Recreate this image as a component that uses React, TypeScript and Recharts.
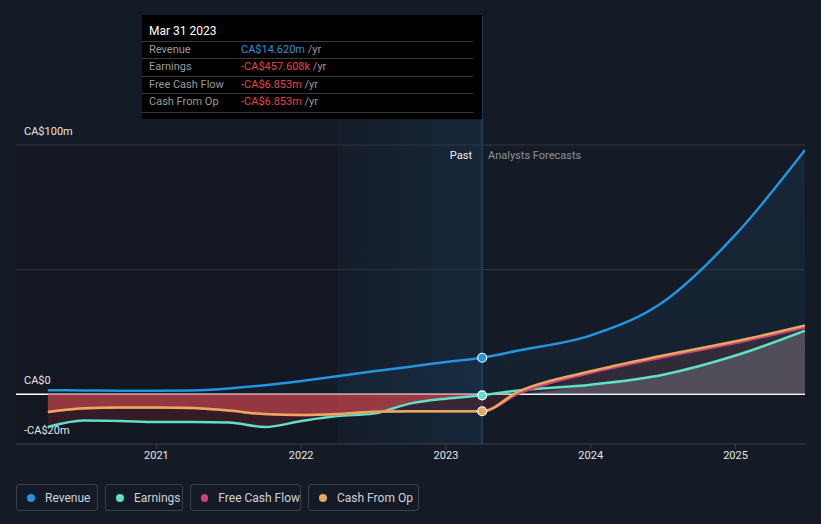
import React from "react";
import {
  ComposedChart,
  Area,
  Line,
  XAxis,
  YAxis,
  ReferenceLine,
  ReferenceArea,
} from "recharts";

// time axis (fractional years), last reported point is Mar 31 2023
const periods = [
  2020.25, 2020.5, 2020.75, 2021.0, 2021.25, 2021.5, 2021.75, 2022.0, 2022.25,
  2022.5, 2022.75, 2023.0, 2023.25, 2023.5, 2024.0, 2024.5, 2025.0, 2025.48,
];
const PAST_END = 2023.25;
const PAST_START = 2022.25;
const X_DOMAIN = [2020.03, 2025.48];
const Y_DOMAIN = [-20, 100];

// CA$ millions
const revenue = [
  1.6, 1.5, 1.4, 1.4, 1.5, 2.3, 3.6, 5.3, 7.2, 9.2, 11.0, 12.9, 14.62, 17.5,
  23.6, 37, 64, 98,
];
const earnings = [
  -13.2, -10.6, -10.8, -11.2, -11.2, -11.4, -13.2, -10.8, -8.8, -7.8, -3.8,
  -1.8, -0.46, 1.5, 3.8, 7.8, 15.5, 25.5,
];
const freeCashFlow = [
  -7.2, -5.7, -5.4, -5.4, -5.6, -6.6, -8.0, -8.4, -8.0, -7.1, -6.9, -6.85,
  -6.853, 0.2, 8.6, 14.8, 20.5, 26.8,
];
const cashFromOp = [
  -7.2, -5.7, -5.4, -5.4, -5.6, -6.6, -8.0, -8.4, -8.0, -7.1, -6.9, -6.85,
  -6.853, 1.0, 9.2, 15.5, 21.2, 27.6,
];

const yearTicks = [2021, 2022, 2023, 2024, 2025];
const yTicks = [-20, 0, 100];
const gridValues = [50, 100];

const tooltipRows = [
  { label: "Revenue", value: "CA$14.620m", color: "#2394df" },
  { label: "Earnings", value: "-CA$457.608k", color: "#e64545" },
  { label: "Free Cash Flow", value: "-CA$6.853m", color: "#e64545" },
  { label: "Cash From Op", value: "-CA$6.853m", color: "#e64545" },
];

const legendItems = [
  { name: "Revenue", color: "#2394df", width: 82 },
  { name: "Earnings", color: "#5fe0c7", width: 78 },
  { name: "Free Cash Flow", color: "#c8417f", width: 111 },
  { name: "Cash From Op", color: "#e8a95c", width: 111 },
];

// split fills by sign; where earnings and fcf sit on the same side they overlap
const data = periods.map((x, i) => {
  const e = earnings[i];
  const f = freeCashFlow[i];
  return {
    x,
    revenue: revenue[i],
    earnings: e,
    fcf: f,
    cfo: cashFromOp[i],
    earnNeg: Math.min(e, 0),
    fcfNeg: Math.min(f, 0),
    fcfPos: Math.max(f, 0),
    bothNeg: e < 0 && f < 0 ? Math.max(e, f) : 0,
    bothPos: e > 0 && f > 0 ? Math.min(e, f) : 0,
  };
});

const FONT = "Roboto, 'Noto Sans', sans-serif";
const BG = "#151b26";
const MARGIN = { top: 145, right: 16, bottom: 0, left: -24 };

function yLabel(v: number) {
  if (v === 0) return "CA$0";
  return v < 0 ? `-CA$${-v}m` : `CA$${v}m`;
}

function endDot(color: string) {
  return (props: any) => {
    const { cx, cy, payload, index } = props;
    if (payload.x !== PAST_END) return <g key={`d${index}`} />;
    return (
      <circle
        key={`d${index}`}
        cx={cx}
        cy={cy}
        r={4.5}
        fill={color}
        stroke="#ffffff"
        strokeWidth={1.2}
      />
    );
  };
}

function renderYTick(props: any) {
  const { y, payload } = props;
  return (
    <text
      x={24}
      y={y - 13}
      dominantBaseline="middle"
      fill="#e6e6e6"
      fontSize={11}
      fontFamily={FONT}
    >
      {yLabel(payload.value)}
    </text>
  );
}

// both layers share the same axes so the scales line up
function axes(visible: boolean) {
  return [
    <XAxis
      key="x"
      dataKey="x"
      type="number"
      domain={X_DOMAIN}
      ticks={yearTicks}
      height={26}
      tick={visible ? { fontSize: 11, fill: "#e6e6e6", fontFamily: FONT } : false}
      tickLine={visible ? { stroke: "#3b404a" } : false}
      tickSize={5}
      axisLine={visible ? { stroke: "#3b404a" } : false}
      allowDataOverflow
    />,
    <YAxis
      key="y"
      type="number"
      domain={Y_DOMAIN}
      ticks={yTicks}
      width={40}
      axisLine={false}
      tickLine={false}
      interval={0}
      tick={visible ? renderYTick : false}
      allowDataOverflow
    />,
  ];
}

function fillArea(key: string, color: string, opacity: number) {
  return (
    <Area
      key={key}
      type="monotone"
      dataKey={key}
      stroke="none"
      fill={color}
      fillOpacity={opacity}
      dot={false}
      activeDot={false}
      isAnimationActive={false}
    />
  );
}

export default function App() {
  const layer: React.CSSProperties = { position: "absolute", left: 0, top: 0 };
  return (
    <div
      style={{
        position: "fixed",
        left: 0,
        top: 0,
        width: 821,
        height: 524,
        background: BG,
        fontFamily: FONT,
        overflow: "hidden",
      }}
    >
      {/* background: shading, grid, zero line, axes */}
      <div style={layer}>
        <ComposedChart width={821} height={470} data={data} margin={MARGIN}>
          <defs>
            <linearGradient id="pastFill" x1="0" y1="0" x2="1" y2="0">
              <stop offset="0" stopColor="#1b5d94" stopOpacity={0.06} />
              <stop offset="1" stopColor="#1b5d94" stopOpacity={0.36} />
            </linearGradient>
          </defs>
          {axes(true)}
          <ReferenceArea
            x1={X_DOMAIN[0]}
            x2={PAST_START}
            y1={-20}
            y2={100}
            fill="#000000"
            fillOpacity={0.12}
            stroke="none"
          />
          <ReferenceArea
            x1={PAST_START}
            x2={PAST_END}
            y1={-20}
            y2={110}
            ifOverflow="visible"
            fill="url(#pastFill)"
            stroke="none"
          />
          {gridValues.map((v) => (
            <ReferenceLine key={v} y={v} stroke="#30353f" strokeWidth={1} />
          ))}
          <ReferenceLine
            segment={[
              { x: PAST_END, y: -20 },
              { x: PAST_END, y: 152 },
            ]}
            ifOverflow="visible"
            stroke="#22405c"
            strokeWidth={1.5}
          />
          <ReferenceLine y={0} stroke="#ffffff" strokeWidth={1.5} />
        </ComposedChart>
      </div>

      {/* series */}
      <div style={layer}>
        <ComposedChart width={821} height={470} data={data} margin={MARGIN}>
          <defs>
            <linearGradient id="revFill" x1="0" y1="0" x2="0" y2="1">
              <stop offset="0" stopColor="#2394df" stopOpacity={0.16} />
              <stop offset="1" stopColor="#2394df" stopOpacity={0.08} />
            </linearGradient>
          </defs>
          {axes(false)}
          <Area
            type="monotone"
            dataKey="revenue"
            stroke="#2394df"
            strokeWidth={2.5}
            fill="url(#revFill)"
            dot={endDot("#2394df")}
            activeDot={false}
            isAnimationActive={false}
          />
          {fillArea("earnNeg", "#c0303a", 0.2)}
          {fillArea("fcfNeg", "#c0303a", 0.2)}
          {fillArea("fcfPos", "#b8606c", 0.17)}
          <Line
            type="monotone"
            dataKey="earnings"
            stroke="#5fe0c7"
            strokeWidth={2.5}
            dot={false}
            activeDot={false}
            isAnimationActive={false}
          />
          <Line
            type="monotone"
            dataKey="fcf"
            stroke="#c8417f"
            strokeWidth={2.5}
            dot={false}
            activeDot={false}
            isAnimationActive={false}
          />
          {fillArea("bothNeg", "#d04a52", 0.55)}
          {fillArea("bothPos", "#aeb0b4", 0.26)}
          <Line
            type="monotone"
            dataKey="cfo"
            stroke="#e8a95c"
            strokeWidth={2.5}
            dot={endDot("#e8a95c")}
            activeDot={false}
            isAnimationActive={false}
          />
          <Line
            type="monotone"
            dataKey="earnings"
            stroke="none"
            dot={endDot("#5fe0c7")}
            activeDot={false}
            isAnimationActive={false}
          />
        </ComposedChart>
      </div>

      <div
        style={{
          position: "absolute",
          left: 440,
          width: 32,
          top: 149,
          fontSize: 11,
          color: "#f0f0f0",
          textAlign: "right",
          whiteSpace: "nowrap",
        }}
      >
        Past
      </div>
      <div
        style={{
          position: "absolute",
          left: 488,
          top: 149,
          fontSize: 11,
          color: "#8d9199",
          whiteSpace: "nowrap",
        }}
      >
        Analysts Forecasts
      </div>

      <div
        style={{
          position: "absolute",
          left: 142,
          top: 15,
          width: 340,
          height: 104,
          background: "#000000",
        }}
      >
        <div
          style={{
            position: "absolute",
            left: 7,
            top: 9,
            fontSize: 12,
            color: "#ffffff",
          }}
        >
          Mar 31 2023
        </div>
        {tooltipRows.map((r, i) => (
          <div
            key={r.label}
            style={{
              position: "absolute",
              left: 0,
              top: 26 + i * 17.4,
              width: 331,
              height: 17.4,
              borderTop: "1px solid #3a3a3a",
              borderBottom: i === tooltipRows.length - 1 ? "1px solid #3a3a3a" : "none",
              fontSize: 11,
              lineHeight: "15px",
            }}
          >
            <span style={{ position: "absolute", left: 7, color: "#9a9a9a" }}>{r.label}</span>
            <span style={{ position: "absolute", left: 99, whiteSpace: "nowrap" }}>
              <span style={{ color: r.color }}>{r.value}</span>
              <span style={{ color: "#9a9a9a" }}> /yr</span>
            </span>
          </div>
        ))}
      </div>

      <div
        style={{
          position: "absolute",
          left: 16,
          top: 484,
          display: "flex",
          gap: 7,
        }}
      >
        {legendItems.map((it) => (
          <div
            key={it.name}
            style={{
              width: it.width,
              height: 27,
              boxSizing: "border-box",
              border: "1px solid #3b404a",
              borderRadius: 3,
              display: "flex",
              alignItems: "center",
              paddingLeft: 10,
              fontSize: 12,
              color: "#cfd2d6",
              whiteSpace: "nowrap",
            }}
          >
            <span
              style={{
                display: "inline-block",
                width: 8,
                height: 8,
                borderRadius: 4,
                background: it.color,
                marginRight: 10,
              }}
            />
            {it.name}
          </div>
        ))}
      </div>
    </div>
  );
}
